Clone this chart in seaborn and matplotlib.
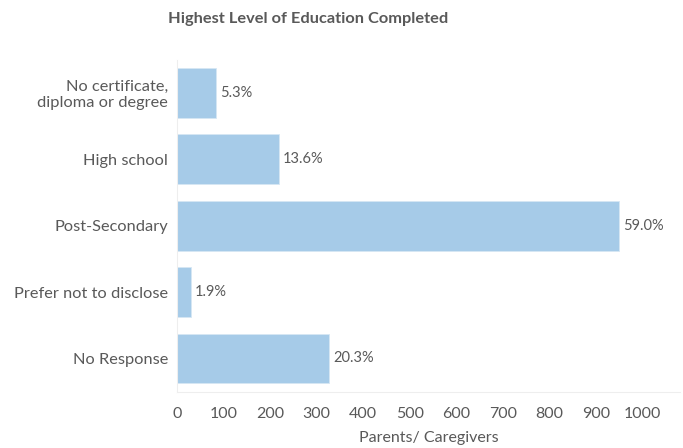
import numpy as np
import pandas as pd
import seaborn as sns
from matplotlib import pyplot as plt

categories = ['No certificate,\ndiploma or degree', 'High school', 'Post-Secondary',
              'Prefer not to disclose', 'No Response']
counts = [85, 219, 949, 31, 327]
pct_labels = ['5.3%', '13.6%', '59.0%', '1.9%', '20.3%']
x_ticks = [0, 100, 200, 300, 400, 500, 600, 700, 800, 900, 1000]

sns.set_style('white')
plt.rcParams['font.family'] = ['Lato', 'DejaVu Sans']

grey = '#595959'
df = pd.DataFrame({'level': categories, 'count': counts})

fig = plt.figure(figsize=(6.83, 4.48), dpi=100)
ax = fig.add_axes([0.2587, 0.1257, 0.737, 0.7413])
sns.barplot(data=df, y='level', x='count', color='#a6cbe8', saturation=1,
            width=0.75, orient='h', ax=ax, edgecolor='#d6e7f4', linewidth=0.6)

for i, (v, lab) in enumerate(zip(counts, pct_labels)):
    ax.text(v + 8, i, lab, va='center', ha='left', fontsize=10.5, color=grey)

ax.set_xlim(0, 1080)
ax.set_ylim(4.5, -0.5)
ax.set_xticks(x_ticks)
ax.set_xticklabels([str(t) for t in x_ticks], fontsize=11.5, color=grey)
ax.tick_params(axis='x', direction='in', length=5, color='#eeeeee', pad=11)
ax.tick_params(axis='y', length=0, labelsize=11.8, labelcolor=grey, pad=6)
for lbl in ax.get_yticklabels():
    lbl.set_multialignment('right')

for s in ['top', 'right']:
    ax.spines[s].set_visible(False)
ax.spines['left'].set_color('#eeeeee')
ax.spines['bottom'].set_color('#eeeeee')

ax.set_ylabel('')
ax.set_xlabel('Parents/ Caregivers', fontsize=11.5, color=grey, labelpad=7)
fig.text(0.451, 0.958, 'Highest Level of Education Completed', ha='center', va='center',
         fontsize=11.8, fontweight='bold', color='#595959')

fig.savefig('out.png', dpi=100)
